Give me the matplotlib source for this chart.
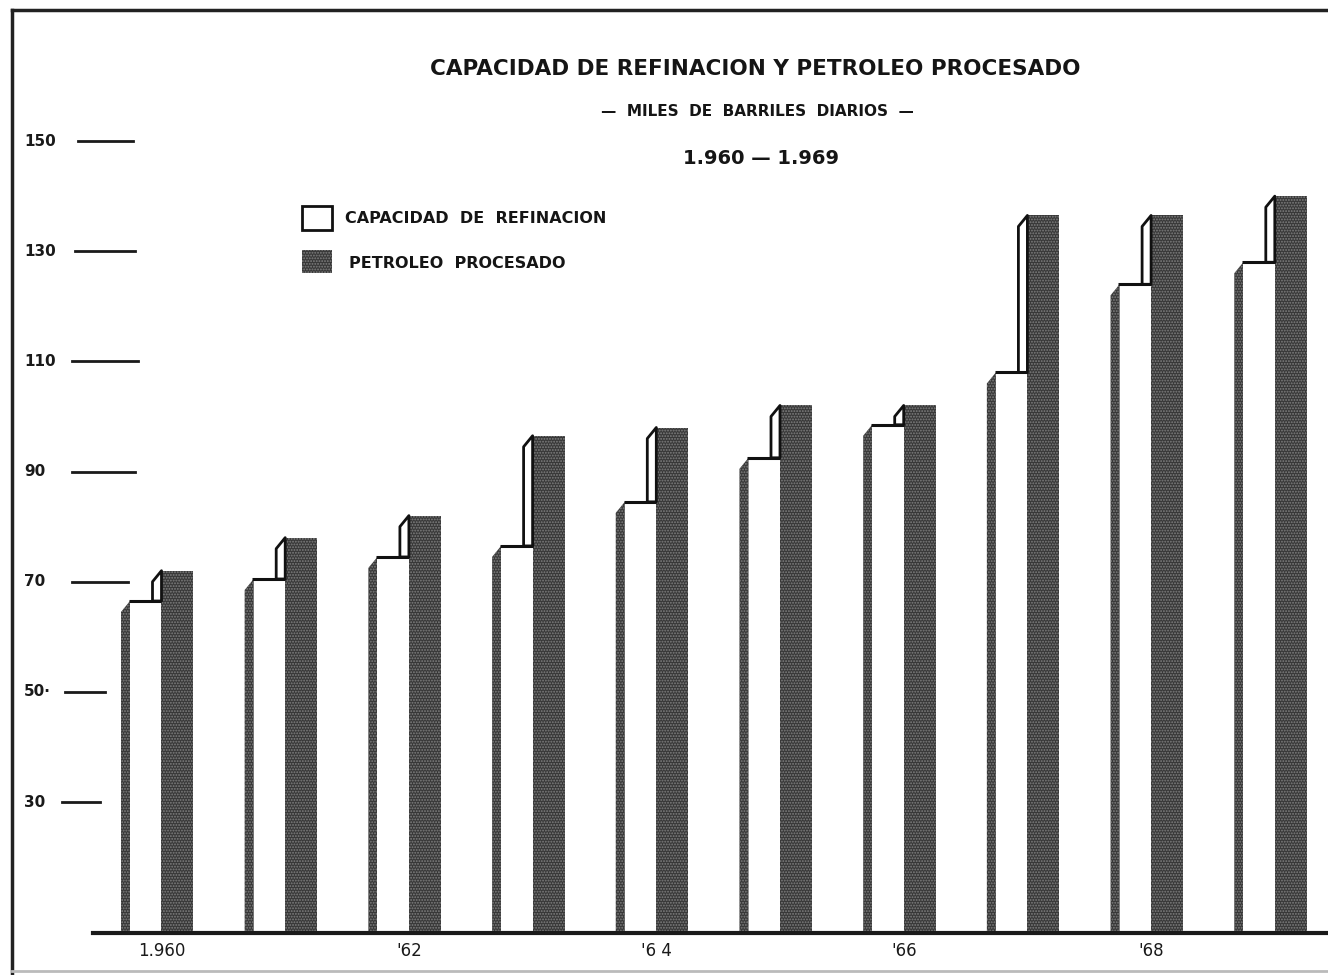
import numpy as np
import matplotlib.pyplot as plt
from matplotlib.patches import Polygon, Rectangle

# miles de barriles diarios, 1960-1969
years = [1960, 1961, 1962, 1963, 1964, 1965, 1966, 1967, 1968, 1969]
capacidad = [66.5, 70.5, 74.5, 76.5, 84.5, 92.5, 98.5, 108, 124, 128]
procesado = [72, 78, 82, 96.5, 98, 102, 102, 136.5, 136.5, 140]

ytick_vals = [150, 130, 110, 90, 70, 50, 30]
ytick_text = ["150", "130", "110", "90", "70", "50·", "30"]
xtick_idx = [0, 2, 4, 6, 8]
xtick_text = ["1.960", "'62", "'6 4", "'66", "'68"]

plt.rcParams['hatch.color'] = '#808080'
plt.rcParams['hatch.linewidth'] = 0.9

W, H = 1328, 975
fig = plt.figure(figsize=(W / 100, H / 100), dpi=100)
ax = fig.add_axes([0, 0, 1, 1])
ax.axis('off')

# page layout in pixels -> data units
X0, DX = 161.5, 123.7          # first group centre, group step
Y0, DY = 967.3, 5.508          # value 0 row, pixels per unit
def px_x(p):
    return (p - X0) / DX
def px_y(p):
    return (Y0 - p) / DY

ax.set_xlim(px_x(0), px_x(W))
ax.set_ylim(px_y(H), px_y(0))

base = px_y(933)
wf = 31.5 / DX     # white front width
wd = 32 / DX       # dark front width
dep = 9 / DX       # side depth
sl = 11 / DY       # slant of side top

dark = '#383838'
grain = '......'

for i in range(len(years)):
    c = i
    cap = capacidad[i]
    pro = procesado[i]
    # side face of the white bar (shaded)
    ax.add_patch(Polygon([(c - wf - dep, base), (c - wf - dep, cap - sl),
                          (c - wf, cap), (c - wf, base)],
                         closed=True, facecolor=dark, edgecolor=None,
                         linewidth=0, hatch=grain, zorder=2))
    # white front
    ax.add_patch(Rectangle((c - wf, base), wf, cap - base,
                           facecolor='white', edgecolor='none', zorder=2))
    ax.plot([c - wf - 0.01, c], [cap, cap], color='#111111', lw=2.2,
            solid_capstyle='butt', zorder=4)
    # dark front
    ax.add_patch(Rectangle((c, base), wd, pro - base,
                           facecolor=dark, edgecolor=None, linewidth=0,
                           hatch=grain, zorder=3))
    # white side of the dark bar
    ax.add_patch(Polygon([(c - dep, cap), (c - dep, pro - sl),
                          (c, pro), (c, cap)],
                         closed=True, facecolor='white', edgecolor='#111111',
                         linewidth=2.0, joinstyle='round', zorder=3))

# baseline
ax.plot([px_x(93), px_x(W)], [base, base], color='#1a1a1a', lw=3, zorder=5)

# frame of the sheet
ax.plot([px_x(12), px_x(12)], [px_y(H), px_y(10)], color='#222222', lw=2.5)
ax.plot([px_x(12), px_x(W)], [px_y(10), px_y(10)], color='#222222', lw=2.5)
ax.plot([px_x(12), px_x(W)], [px_y(971), px_y(971)], color='#bbbbbb', lw=2)

# y scale: hand-drawn dashes with numbers
tick_x0 = [78, 75, 72, 72, 72, 65, 62]
tick_x1 = [133, 135, 138, 135, 128, 105, 100]
for v, t, a, b in zip(ytick_vals, ytick_text, tick_x0, tick_x1):
    ax.plot([px_x(a), px_x(b)], [v, v], color='#1a1a1a', lw=2)
    ax.text(px_x(24), v, t, fontsize=11, fontweight='bold',
            ha='left', va='center', color='#1a1a1a')

# year labels
for i, t in zip(xtick_idx, xtick_text):
    ax.text(i, px_y(951), t, fontsize=12, ha='center', va='center',
            color='#1a1a1a')

# titles
fig.text(755 / W, 1 - 69 / H, "CAPACIDAD DE REFINACION Y PETROLEO PROCESADO",
         fontsize=15.5, fontweight='bold', ha='center', va='center',
         color='#151515')
fig.text(757 / W, 1 - 112 / H, "—  MILES  DE  BARRILES  DIARIOS  —",
         fontsize=11, fontweight='bold', ha='center', va='center',
         color='#151515')
fig.text(761 / W, 1 - 159 / H, "1.960 — 1.969",
         fontsize=14, fontweight='bold', ha='center', va='center',
         color='#151515')

# legend
ax.add_patch(Rectangle((px_x(302), px_y(230)), 30 / DX, 24 / DY,
                       facecolor='white', edgecolor='#111111', lw=2, zorder=5))
ax.add_patch(Rectangle((px_x(302), px_y(273)), 30 / DX, 23 / DY,
                       facecolor=dark, edgecolor=None, linewidth=0,
                       hatch=grain, zorder=5))
ax.text(px_x(345), px_y(219), "CAPACIDAD  DE  REFINACION", fontsize=11.5,
        fontweight='bold', ha='left', va='center', color='#151515')
ax.text(px_x(349), px_y(263), "PETROLEO  PROCESADO", fontsize=11.5,
        fontweight='bold', ha='left', va='center', color='#151515')

fig.savefig('out.png', dpi=100, facecolor='white')
